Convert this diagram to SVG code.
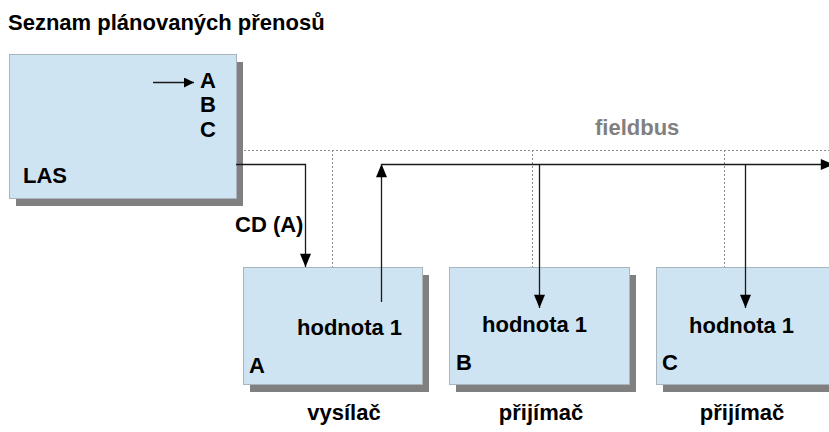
<svg xmlns="http://www.w3.org/2000/svg" width="829" height="432" viewBox="0 0 829 432">
  <style>
    text { font-family: "Liberation Sans", Arial, sans-serif; font-weight: bold; font-size: 22px; fill: #000; }
    .mid { text-anchor: middle; }
    .bus { fill: #808080; }
    .box { fill: #cfe4f3; stroke: #a9b4bc; stroke-width: 1; }
    .shadow { fill: #808080; }
    .wire { fill: none; stroke: #1a1a1a; stroke-width: 1.3; }
    .dots { fill: none; stroke: #8a8a8a; stroke-width: 1; stroke-dasharray: 2 2; }
  </style>
  <defs>
    <marker id="head" viewBox="0 0 10 10" refX="10" refY="5" markerWidth="10" markerHeight="10" markerUnits="userSpaceOnUse" orient="auto">
      <path d="M0,0 L10,5 L0,10 z" fill="#000"/>
    </marker>
    <marker id="headL" viewBox="0 0 12 10" refX="12" refY="5" markerWidth="14" markerHeight="11" markerUnits="userSpaceOnUse" orient="auto">
      <path d="M0,0 L12,5 L0,10 z" fill="#000"/>
    </marker>
  </defs>

  <rect width="829" height="432" fill="#fff"/>

  <text x="8" y="30">Seznam plánovaných přenosů</text>

  <!-- bus guide lines (dotted) -->
  <g id="bus-guides">
    <path class="dots" d="M236,150.5 H829"/>
    <path class="dots" d="M332.5,150 V267"/>
    <path class="dots" d="M532.5,150 V267"/>
    <path class="dots" d="M724.5,150 V267"/>
    <text class="bus" x="595" y="135">fieldbus</text>
  </g>

  <g id="las">
    <rect class="shadow" x="16" y="62" width="227" height="144"/>
    <rect class="box" x="9.5" y="54.5" width="227" height="144"/>
    <text x="200" y="88">A</text>
    <text x="200" y="112">B</text>
    <text x="200" y="137">C</text>
    <text x="23" y="183">LAS</text>
  </g>

  <g id="node-a">
    <rect class="shadow" x="250" y="275" width="179" height="117"/>
    <rect class="box" x="243.5" y="267.5" width="179" height="117"/>
    <text x="297" y="335">hodnota 1</text>
    <text x="249" y="373">A</text>
    <text class="mid" x="344" y="420">vysílač</text>
  </g>

  <g id="node-b">
    <rect class="shadow" x="456" y="275" width="180" height="117"/>
    <rect class="box" x="449.5" y="267.5" width="180" height="117"/>
    <text x="482" y="332">hodnota 1</text>
    <text x="456" y="370">B</text>
    <text class="mid" x="541" y="420">přijímač</text>
  </g>

  <g id="node-c">
    <rect class="shadow" x="663" y="275" width="180" height="117"/>
    <rect class="box" x="656.5" y="267.5" width="180" height="117"/>
    <text x="689" y="333">hodnota 1</text>
    <text x="662" y="370">C</text>
    <text class="mid" x="742" y="420">přijímač</text>
  </g>

  <g id="connectors">
    <path class="wire" d="M153,82.5 H194" marker-end="url(#head)"/>
    <path class="wire" d="M236,164.5 H305.5 V267" marker-end="url(#headL)"/>
    <text x="235" y="232">CD (A)</text>
    <path class="wire" d="M381.5,302 V164" marker-end="url(#headL)"/>
    <path class="wire" d="M381,164.5 H834" marker-end="url(#headL)"/>
    <path class="wire" d="M539.5,164 V308" marker-end="url(#headL)"/>
    <path class="wire" d="M745.5,164 V308" marker-end="url(#headL)"/>
  </g>
</svg>
